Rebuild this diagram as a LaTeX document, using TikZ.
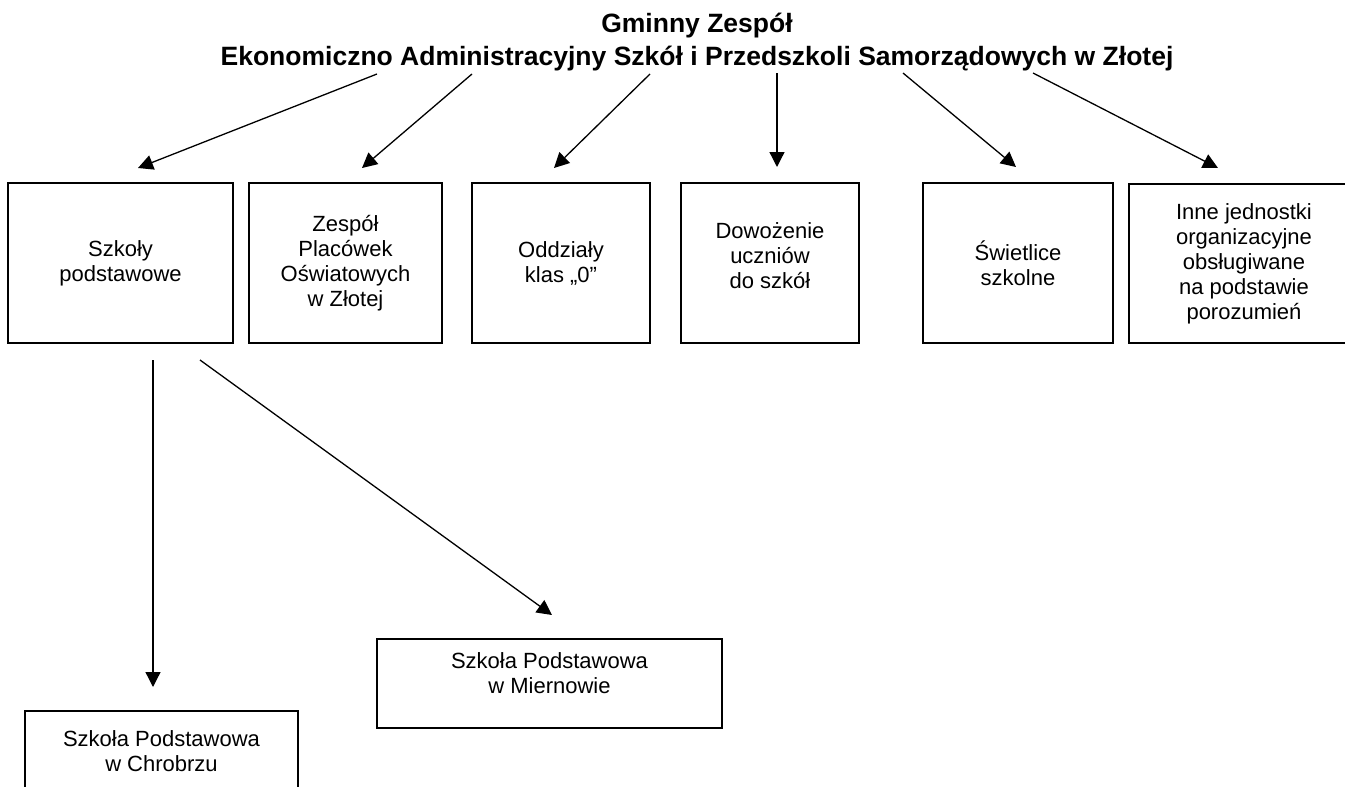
\documentclass[tikz,border=0pt]{standalone}
\usepackage{fontspec}
\setmainfont{Liberation Sans}
\usetikzlibrary{arrows.meta}

\tikzset{
  unit/.style={draw,line width=1.6pt,align=center,font=\fontsize{22}{25}\selectfont,inner sep=2pt},
  heading/.style={anchor=base,font=\fontsize{26.5}{33}\selectfont\bfseries},
  link/.style={line width=1.3pt,-{Triangle[length=15pt,width=15pt]}}
}

\begin{document}
\begin{tikzpicture}[x=1pt,y=-1pt]
  \useasboundingbox (0,0) rectangle (1345,787);
  % title
  \node[heading] (title1) at (697,32) {Gminny Zesp\'o\l{}};
  \node[heading] (title2) at (697,65) {Ekonomiczno Administracyjny Szk\'o\l{} i Przedszkoli Samorz\k{a}dowych w Z\l{}otej};
  % first level
  \node[unit,minimum width=225pt,minimum height=160pt] (szkoly) at (120.5,263) {Szko\l{}y\\podstawowe};
  \node[unit,minimum width=193pt,minimum height=160pt] (zespol) at (345.5,263) {Zesp\'o\l{}\\Plac\'owek\\O\'swiatowych\\w Z\l{}otej};
  \node[unit,minimum width=178pt,minimum height=160pt] (oddzialy) at (561,263) {Oddzia\l{}y\\klas \quotedblbase 0\textquotedblright};
  \node[unit,minimum width=178pt,minimum height=160pt,text depth=14pt] (dowoz) at (770,263) {Dowo\.zenie\\uczni\'ow\\do szk\'o\l{}};
  \node[unit,minimum width=190pt,minimum height=160pt] (swietlice) at (1018,263) {\'Swietlice\\szkolne};
  \node[unit,minimum width=230pt,minimum height=159pt] (inne) at (1244,263.5) {Inne jednostki\\organizacyjne\\obs\l{}ugiwane\\na podstawie\\porozumie\'n};
  % second level
  \node[unit,minimum width=345pt,minimum height=89pt,text depth=20pt] (miernow) at (549.5,683.5) {Szko\l{}a Podstawowa\\w Miernowie};
  \node[unit,minimum width=273pt,minimum height=80pt] (chrob) at (161.5,751) {Szko\l{}a Podstawowa\\w Chrobrzu};

  \coordinate (s1) at (377,74);  \coordinate (e1) at (138,168);
  \coordinate (s2) at (472,74);  \coordinate (e2) at (362,168);
  \coordinate (s3) at (650,74);  \coordinate (e3) at (554,168);
  \coordinate (s4) at (777,73);  \coordinate (e4) at (777,167);
  \coordinate (s5) at (903,73);  \coordinate (e5) at (1016,167);
  \coordinate (s6) at (1033,73); \coordinate (e6) at (1218,168);
  \coordinate (s7) at (153,360); \coordinate (e7) at (153,687);
  \coordinate (s8) at (200,360); \coordinate (e8) at (552,615);

  \foreach \i in {1,...,8}
    \draw[link] (s\i) -- (e\i);
\end{tikzpicture}
\end{document}
